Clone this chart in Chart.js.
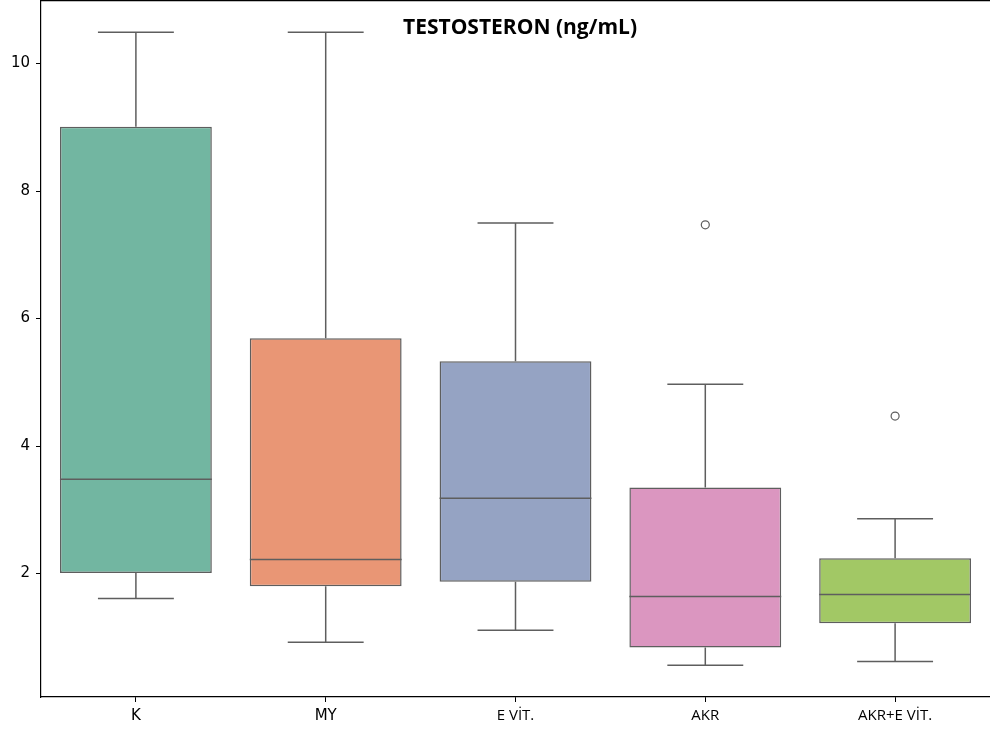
<!DOCTYPE html>
<html>
<head>
<meta charset="utf-8">
<script src="https://cdn.jsdelivr.net/npm/chart.js@4"></script>
<style>
  html, body { margin: 0; padding: 0; background: #fff; }
  #wrap { width: 990px; height: 731px; }
</style>
</head>
<body>
<div id="wrap"><canvas id="miGraficoCaja"></canvas></div>
<script>
// datos
const grupos = ['K', 'MY', 'E VİT.', 'AKR', 'AKR+E VİT.'];
const bigoteInf = [1.61, 0.92, 1.11, 0.56, 0.62];
const cuartil1 = [2.01, 1.80, 1.87, 0.84, 1.22];
const mediana = [3.48, 2.22, 3.18, 1.64, 1.67];
const cuartil3 = [9.01, 5.69, 5.33, 3.35, 2.24];
const bigoteSup = [10.49, 10.49, 7.50, 4.97, 2.86];
const atipicos = [null, null, null, 7.47, 4.47];
const colores = ['#72b6a1', '#e99675', '#95a3c3', '#db96c0', '#a2c865'];
const ticksY = [2, 4, 6, 8, 10];

const GRIS = '#5e5e5e';

// bigotes, medianas y borde superior
const dibujarCajas = {
    id: 'dibujarCajas',
    afterDatasetsDraw(chart) {
        const ctx = chart.ctx;
        const x = chart.scales.x;
        const y = chart.scales.y;
        const paso = x.width / grupos.length;
        ctx.save();
        ctx.strokeStyle = GRIS;
        ctx.lineWidth = 1.5;
        grupos.forEach(function (g, i) {
            const cx = x.getPixelForValue(i);
            const semiCaja = paso * 0.4;
            const semiTope = paso * 0.2;
            ctx.beginPath();
            // mediana
            ctx.moveTo(cx - semiCaja, y.getPixelForValue(mediana[i]));
            ctx.lineTo(cx + semiCaja, y.getPixelForValue(mediana[i]));
            // bigote superior
            ctx.moveTo(cx, y.getPixelForValue(cuartil3[i]));
            ctx.lineTo(cx, y.getPixelForValue(bigoteSup[i]));
            ctx.moveTo(cx - semiTope, y.getPixelForValue(bigoteSup[i]));
            ctx.lineTo(cx + semiTope, y.getPixelForValue(bigoteSup[i]));
            // bigote inferior
            ctx.moveTo(cx, y.getPixelForValue(cuartil1[i]));
            ctx.lineTo(cx, y.getPixelForValue(bigoteInf[i]));
            ctx.moveTo(cx - semiTope, y.getPixelForValue(bigoteInf[i]));
            ctx.lineTo(cx + semiTope, y.getPixelForValue(bigoteInf[i]));
            ctx.stroke();
        });
        // borde superior
        const area = chart.chartArea;
        ctx.strokeStyle = '#000';
        ctx.lineWidth = 1.2;
        ctx.beginPath();
        ctx.moveTo(area.left, area.top + 0.6);
        ctx.lineTo(chart.width, area.top + 0.6);
        ctx.stroke();
        // titulo
        ctx.fillStyle = '#000';
        ctx.font = 'bold 21px "Open Sans"';
        ctx.textAlign = 'center';
        ctx.textBaseline = 'middle';
        ctx.fillText('TESTOSTERON (ng/mL)', 520, 28);
        ctx.restore();
    }
};

const GRAFICOCAJA = document.getElementById('miGraficoCaja');

let graficaCaja = new Chart(GRAFICOCAJA, {
    type: 'bar',
    data: {
        labels: grupos,
        datasets: [{
            label: 'Caja',
            data: grupos.map(function (g, i) { return [cuartil1[i], cuartil3[i]]; }),
            backgroundColor: colores,
            borderColor: GRIS,
            borderWidth: 1.5,
            borderSkipped: false,
            barPercentage: 0.8,
            categoryPercentage: 1.0,
            order: 2
        }, {
            type: 'line',
            label: 'Atipicos',
            data: atipicos,
            showLine: false,
            pointStyle: 'circle',
            pointRadius: 4,
            pointBorderWidth: 1.2,
            pointBorderColor: GRIS,
            pointBackgroundColor: 'rgba(255,255,255,0)',
            order: 1
        }]
    },
    plugins: [dibujarCajas],
    options: {
        responsive: true,
        maintainAspectRatio: false,
        animation: false,
        layout: { padding: 0, autoPadding: false },
        plugins: {
            legend: { display: false },
            tooltip: { enabled: false },
            title: { display: false }
        },
        scales: {
            x: {
                offset: true,
                grid: { offset: false, drawOnChartArea: false, drawTicks: true, tickLength: 5, color: '#000' },
                border: { display: true, color: '#000', width: 1.2 },
                ticks: {
                    color: '#000',
                    padding: 5,
                    maxRotation: 0,
                    font: function (c) {
                        if (c.index < 2) return { family: 'DejaVu Sans', size: 15 };
                        return { family: 'Open Sans', size: 15 };
                    }
                },
                afterFit: function (scale) {
                    scale.height = 34;
                    scale.paddingLeft = 0;
                    scale.paddingRight = 0;
                }
            },
            y: {
                min: 0.063,
                max: 10.997,
                grid: { drawOnChartArea: false, drawTicks: true, tickLength: 5, color: '#000' },
                border: { display: true, color: '#000', width: 1.2 },
                ticks: {
                    color: '#000',
                    padding: 6,
                    font: { family: 'DejaVu Sans', size: 15 }
                },
                afterBuildTicks: function (scale) {
                    scale.ticks = ticksY.map(function (v) { return { value: v }; });
                },
                afterFit: function (scale) {
                    scale.width = 41;
                    scale.paddingTop = 0;
                    scale.paddingBottom = 0;
                }
            }
        }
    }
});
</script>
</body>
</html>
